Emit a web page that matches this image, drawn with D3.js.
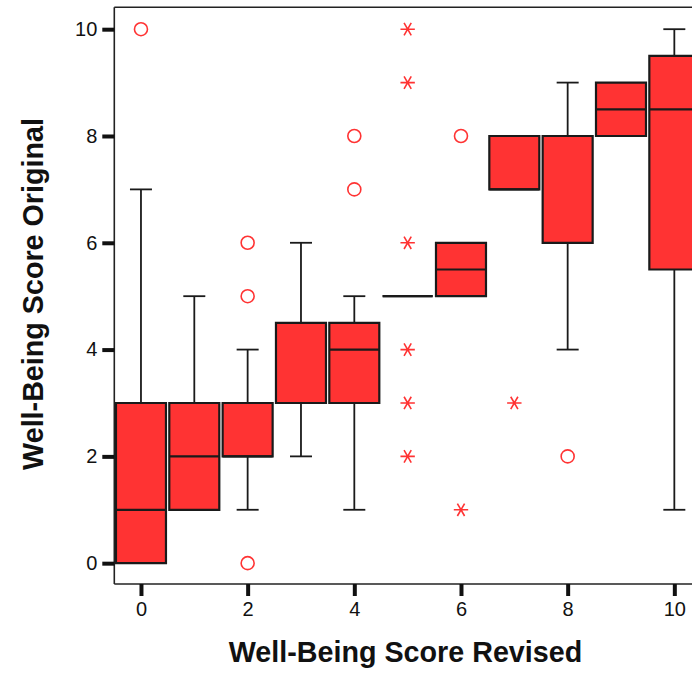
<!DOCTYPE html>
<html>
<head>
<meta charset="utf-8">
<script src="https://cdn.jsdelivr.net/npm/d3@7"></script>
<style>
  html, body { margin: 0; padding: 0; background: #fff; }
  svg { display: block; font-family: "Liberation Sans", Arial, Helvetica, sans-serif; }
</style>
</head>
<body>
<svg id="chart" width="692" height="677"></svg>
<script>
// Well-Being Score Revised (groups 0..10)
const categories = [0, 1, 2, 3, 4, 5, 6, 7, 8, 9, 10];
// Box statistics for each group of the original score
const q1Values      = [0, 1, 2, 3, 3,   5, 5,   7, 6, 8,   5.5];
const medianValues  = [1, 2, 2, 3, 4,   5, 5.5, 7, 8, 8.5, 8.5];
const q3Values      = [3, 3, 3, 4.5, 4.5, 5, 6, 8, 8, 9,   9.5];
const whiskerLow    = [0, 1, 1, 2, 1,   5, 5,   7, 4, 8,   1];
const whiskerHigh   = [7, 5, 4, 6, 5,   5, 6,   8, 9, 9,   10];
// Outliers (circles) and extreme values (asterisks): [group, score]
const outlierPoints = [[0, 10], [2, 6], [2, 5], [2, 0], [4, 8], [4, 7], [6, 8], [8, 2]];
const extremePoints = [[5, 10], [5, 9], [5, 6], [5, 4], [5, 3], [5, 2], [6, 1], [7, 3]];
const yTickValues = [0, 2, 4, 6, 8, 10];
const xTickValues = [0, 2, 4, 6, 8, 10];

const svg = d3.select("#chart");
const red = "#ff3333";
const ink = "#1a1a1a";

const x = d3.scaleLinear().domain([-0.5, 10.5]).range([114.3, 701]);
const y = d3.scaleLinear().domain([-0.39, 10.41]).range([584, 7.3]);

const boxW = 50, capW = 22;

// frame: left axis, top edge, bottom axis
const frame = svg.append("g").attr("fill", "none").attr("stroke", "#222").attr("stroke-width", 1.6);
frame.append("line").attr("x1", x(-0.5)).attr("x2", x(-0.5)).attr("y1", y.range()[1]).attr("y2", y.range()[0]);
frame.append("line").attr("x1", x(-0.5)).attr("x2", x(10.5)).attr("y1", y.range()[1]).attr("y2", y.range()[1]);
frame.append("line").attr("x1", x(-0.5)).attr("x2", x(10.5)).attr("y1", y.range()[0]).attr("y2", y.range()[0]);

// Y axis ticks and labels
const yAxis = d3.axisLeft(y).tickValues(yTickValues).tickSize(12).tickPadding(5).tickFormat(d3.format("d"));
const gy = svg.append("g").attr("transform", `translate(${x(-0.5)},0)`).call(yAxis);
gy.select(".domain").remove();
gy.selectAll(".tick line").attr("stroke", "#111").attr("stroke-width", 4);
gy.selectAll(".tick text").attr("font-size", 20).attr("fill", "#111")
  .attr("font-family", "'Liberation Sans', Arial, sans-serif");

// X axis ticks and labels
const xAxis = d3.axisBottom(x).tickValues(xTickValues).tickSize(12).tickPadding(6).tickFormat(d3.format("d"));
const gx = svg.append("g").attr("transform", `translate(0,${y.range()[0]})`).call(xAxis);
gx.select(".domain").remove();
gx.selectAll(".tick line").attr("stroke", "#111").attr("stroke-width", 4);
gx.selectAll(".tick text").attr("font-size", 20).attr("fill", "#111")
  .attr("font-family", "'Liberation Sans', Arial, sans-serif");

// box plots
const boxes = categories.map((c, i) => ({
  c, q1: q1Values[i], med: medianValues[i], q3: q3Values[i], lo: whiskerLow[i], hi: whiskerHigh[i]
}));

const g = svg.append("g");
boxes.forEach(b => {
  const cx = x(b.c);
  // whiskers
  if (b.hi > b.q3) {
    g.append("line").attr("x1", cx).attr("x2", cx).attr("y1", y(b.q3)).attr("y2", y(b.hi))
      .attr("stroke", ink).attr("stroke-width", 1.8);
    g.append("line").attr("x1", cx - capW / 2).attr("x2", cx + capW / 2).attr("y1", y(b.hi)).attr("y2", y(b.hi))
      .attr("stroke", ink).attr("stroke-width", 1.8);
  }
  if (b.lo < b.q1) {
    g.append("line").attr("x1", cx).attr("x2", cx).attr("y1", y(b.q1)).attr("y2", y(b.lo))
      .attr("stroke", ink).attr("stroke-width", 1.8);
    g.append("line").attr("x1", cx - capW / 2).attr("x2", cx + capW / 2).attr("y1", y(b.lo)).attr("y2", y(b.lo))
      .attr("stroke", ink).attr("stroke-width", 1.8);
  }
  // box (a path so a zero-height box still draws as a line)
  const x0 = cx - boxW / 2, x1 = cx + boxW / 2;
  g.append("path")
    .attr("d", `M${x0},${y(b.q3)}H${x1}V${y(b.q1)}H${x0}Z`)
    .attr("fill", red).attr("stroke", ink).attr("stroke-width", 2.2).attr("stroke-linejoin", "miter");
  // median
  g.append("line").attr("x1", x0).attr("x2", x1).attr("y1", y(b.med)).attr("y2", y(b.med))
    .attr("stroke", ink).attr("stroke-width", 2.2);
});

// outliers
svg.append("g").selectAll("circle").data(outlierPoints).join("circle")
  .attr("cx", d => x(d[0])).attr("cy", d => y(d[1])).attr("r", 6.5)
  .attr("fill", "none").attr("stroke", red).attr("stroke-width", 1.6);

// extreme values: six-pointed asterisks
const h = 7.2;
const star = d3.range(3).map(k => {
  const a = k * Math.PI / 3;
  const dx = h * Math.cos(a), dy = h * Math.sin(a);
  return `M${-dx},${-dy}L${dx},${dy}`;
}).join("");
svg.append("g").selectAll("path").data(extremePoints).join("path")
  .attr("transform", d => `translate(${x(d[0])},${y(d[1])})`)
  .attr("d", star).attr("fill", "none").attr("stroke", red).attr("stroke-width", 1.6);

// axis titles
svg.append("text")
  .attr("x", 405.5).attr("y", 662)
  .attr("text-anchor", "middle").attr("font-size", 28.7).attr("font-weight", "bold").attr("fill", "#111")
  .text("Well-Being Score Revised");
svg.append("text")
  .attr("transform", "translate(42.7,294) rotate(-90)")
  .attr("text-anchor", "middle").attr("font-size", 28.7).attr("font-weight", "bold").attr("fill", "#111")
  .text("Well-Being Score Original");
</script>
</body>
</html>
